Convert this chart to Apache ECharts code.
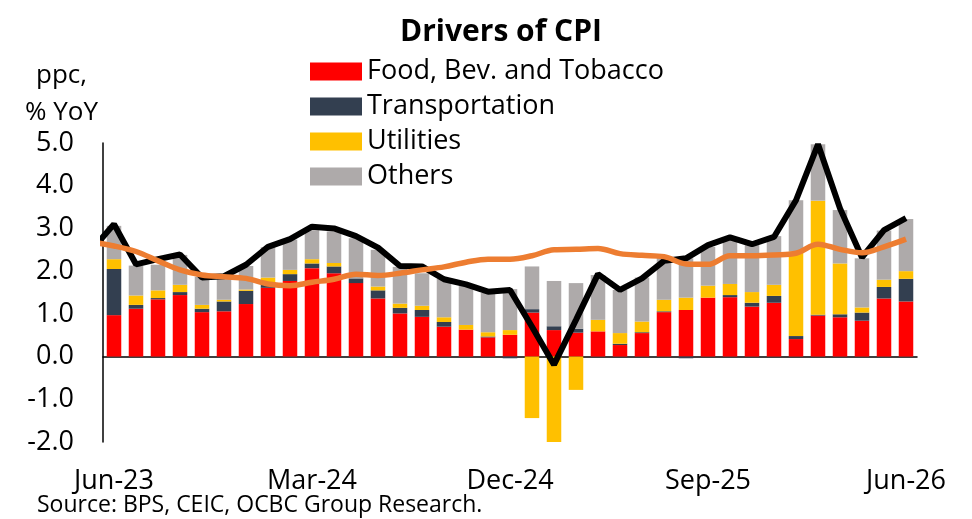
<!DOCTYPE html>
<html>
<head>
<meta charset="utf-8">
<script src="https://cdn.jsdelivr.net/npm/echarts@6/dist/echarts.min.js"></script>
<style>
  html, body { margin: 0; padding: 0; background: #fff; }
  #chart { width: 972px; height: 519px; }
</style>
</head>
<body>
<div id="chart"></div>
<script>
const months = [
  'Jun-23', 'Jul-23', 'Aug-23', 'Sep-23', 'Oct-23', 'Nov-23', 'Dec-23',
  'Jan-24', 'Feb-24', 'Mar-24', 'Apr-24', 'May-24', 'Jun-24', 'Jul-24',
  'Aug-24', 'Sep-24', 'Oct-24', 'Nov-24', 'Dec-24', 'Jan-25', 'Feb-25',
  'Mar-25', 'Apr-25', 'May-25', 'Jun-25', 'Jul-25', 'Aug-25', 'Sep-25',
  'Oct-25', 'Nov-25', 'Dec-25', 'Jan-26', 'Feb-26', 'Mar-26', 'Apr-26',
  'May-26', 'Jun-26'
]

const food = [
  0.97, 1.12, 1.34, 1.44, 1.04, 1.06, 1.23, 1.61, 1.77, 2.07, 1.95, 1.72,
  1.36, 1.01, 0.93, 0.70, 0.63, 0.45, 0.51, 1.03, 0.62, 0.56, 0.59, 0.27,
  0.55, 1.04, 1.09, 1.38, 1.39, 1.17, 1.26, 0.41, 0.96, 0.92, 0.84, 1.36, 1.29
]
const transport = [
  1.08, 0.09, 0.03, 0.07, 0.08, 0.23, 0.31, 0.12, 0.16, 0.11, 0.16, 0.11,
  0.19, 0.13, 0.16, 0.11, 0.00, 0.02, -0.04, 0.08, 0.09, 0.09, 0.00, 0.03,
  0.02, 0.02, -0.04, 0.00, 0.05, 0.09, 0.16, 0.07, 0.02, 0.07, 0.19, 0.27, 0.53
]
const utilities = [
  0.23, 0.22, 0.18, 0.17, 0.09, 0.04, 0.03, 0.12, 0.10, 0.10, 0.08, 0.00,
  0.09, 0.10, 0.10, 0.11, 0.11, 0.10, 0.11, -1.44, -2.00, -0.78, 0.27, 0.25,
  0.25, 0.27, 0.29, 0.28, 0.26, 0.25, 0.26, 1.98, 2.67, 1.19, 0.12, 0.17, 0.18
]
const others = [
  0.78, 0.70, 0.60, 0.70, 0.66, 0.52, 0.55, 0.71, 0.71, 0.68, 0.74, 0.94,
  0.86, 0.86, 0.76, 0.90, 0.92, 0.92, 0.96, 1.00, 1.06, 1.07, 1.05, 1.01,
  1.03, 1.02, 0.92, 0.91, 1.07, 1.10, 1.14, 1.20, 1.32, 1.25, 1.15, 1.15, 1.22
]

// lines start one month earlier (May-23), that point is clipped by the plot edge
const headline = [
  2.50,
  3.10, 2.16, 2.28, 2.39, 1.85, 1.88, 2.15, 2.57, 2.75, 3.04, 3.00, 2.82,
  2.55, 2.12, 2.11, 1.81, 1.69, 1.52, 1.56, 0.70, -0.19, 0.86, 1.93, 1.56,
  1.83, 2.24, 2.30, 2.61, 2.79, 2.63, 2.80, 3.66, 4.97, 3.47, 2.32, 2.96, 3.24
]
const core = [
  2.68,
  2.59, 2.46, 2.24, 2.03, 1.91, 1.87, 1.83, 1.70, 1.66, 1.74, 1.81, 1.93,
  1.90, 1.95, 2.03, 2.10, 2.21, 2.28, 2.28, 2.36, 2.50, 2.51, 2.53, 2.41,
  2.37, 2.34, 2.17, 2.16, 2.36, 2.36, 2.38, 2.42, 2.63, 2.51, 2.43, 2.57, 2.75
]

const FONT = '"Open Sans", "Noto Sans", sans-serif'

const chart = echarts.init(document.getElementById('chart'))

const barSeries = (name, data, color) => ({
  name,
  type: 'bar',
  stack: 'cpi',
  data,
  barWidth: '66%',
  xAxisIndex: 0,
  yAxisIndex: 0,
  itemStyle: { color },
  emphasis: { disabled: true },
})

const lineSeries = (name, data, color, width, smooth) => ({
  name,
  type: 'line',
  data: data.map((v, i) => [i - 1, v]),
  xAxisIndex: 2,
  yAxisIndex: 0,
  symbol: 'none',
  smooth,
  lineStyle: { color, width },
  z: 5,
})

chart.setOption({
  animation: false,
  backgroundColor: '#fff',
  textStyle: { fontFamily: FONT },
  title: {
    text: 'Drivers of CPI',
    left: 496,
    textAlign: 'center',
    top: 12,
    textStyle: { fontSize: 30, fontWeight: 'bold', color: '#000', fontFamily: FONT },
  },
  legend: {
    data: ['Food, Bev. and Tobacco', 'Transportation', 'Utilities', 'Others'],
    orient: 'vertical',
    left: 305,
    top: 53,
    itemWidth: 52,
    itemHeight: 18,
    itemGap: 8,
    icon: 'rect',
    textStyle: { fontSize: 27, lineHeight: 27, color: '#000', fontFamily: FONT },
  },
  graphic: [
    { type: 'text', left: 36, top: 63, style: { text: 'ppc,', fontSize: 26, fill: '#000', fontFamily: FONT } },
    { type: 'text', left: 25, top: 100, style: { text: '% YoY', fontSize: 26, fill: '#000', fontFamily: FONT } },
    { type: 'text', left: 37, top: 494, style: { text: 'Source: BPS, CEIC, OCBC Group Research.', fontSize: 23, fill: '#000', fontFamily: FONT } },
  ],
  grid: { left: 103, right: 55, top: 143, bottom: 77 },
  xAxis: [
    {
      type: 'category',
      data: months,
      axisLine: { onZero: true, lineStyle: { color: '#000', width: 1.5 } },
      axisTick: { show: false },
      axisLabel: { show: false },
    },
    {
      type: 'category',
      data: months,
      position: 'bottom',
      axisLine: { show: false, onZero: false },
      axisTick: { show: false },
      axisLabel: { interval: 8, fontSize: 27, color: '#000', margin: 26, fontFamily: FONT },
    },
    { type: 'value', min: -0.5, max: 36.5, show: false },
  ],
  yAxis: {
    type: 'value',
    min: -2,
    max: 5,
    interval: 1,
    splitLine: { show: false },
    axisTick: { show: false },
    axisLine: { show: true, onZero: false, lineStyle: { color: '#000', width: 1.5 } },
    axisLabel: {
      fontSize: 27,
      color: '#000',
      margin: 29,
      fontFamily: FONT,
      formatter: (v) => v.toFixed(1),
    },
  },
  series: [
    barSeries('Food, Bev. and Tobacco', food, '#FF0000'),
    barSeries('Transportation', transport, '#333F50'),
    barSeries('Utilities', utilities, '#FFC000'),
    barSeries('Others', others, '#AEAAAA'),
    lineSeries('Headline', headline, '#000000', 6, false),
    lineSeries('Core', core, '#ED7D31', 5.5, 0.35),
  ],
})
</script>
</body>
</html>
